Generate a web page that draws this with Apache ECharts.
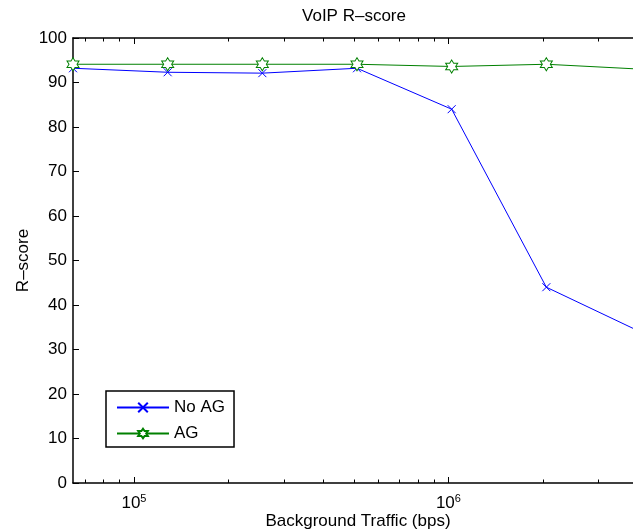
<!DOCTYPE html>
<html>
<head>
<meta charset="utf-8">
<script src="https://cdn.jsdelivr.net/npm/echarts@6/dist/echarts.min.js"></script>
<style>html,body{margin:0;padding:0;background:#fff;overflow:hidden}#c{width:660px;height:532px}</style>
</head>
<body>
<div id="c"></div>
<script>
const xValues = [64000, 128000, 256000, 512000, 1024000, 2048000, 4096000];
const noAG = [93.2, 92.3, 92.1, 93.2, 84.0, 44.0, 33.9];
const ag = [94.1, 94.1, 94.1, 94.1, 93.6, 94.1, 93.0];
const majorTicks = [1e5, 1e6];
const minorTicks = [7e4, 8e4, 9e4, 2e5, 3e5, 4e5, 5e5, 6e5, 7e5, 8e5, 9e5, 2e6, 3e6, 4e6];
const xMin = 64000, xMax = 4096000;

const FONT = '"Liberation Sans", Arial, Helvetica, sans-serif';
const STAR = 'path://M10,0L12.887,5L18.66,5L15.77,10L18.66,15L12.887,15L10,20L7.113,15L1.34,15L4.23,10L1.34,5L7.113,5Z';
const CROSS = 'path://M0,0L10,10M10,0L0,10';

function xAx(pos, ticks, len, showLine, showLabel) {
  return {
    type: 'log', logBase: 10, min: xMin, max: xMax, position: pos, gridIndex: 0,
    axisLine: {show: showLine, onZero: false, lineStyle: {color: '#000', width: 1.5}},
    axisTick: {show: true, inside: true, length: len, customValues: ticks, lineStyle: {color: '#000', width: 1}},
    axisLabel: showLabel ? {
      show: true, customValues: ticks, margin: 10,
      formatter: v => '{b|10}{s|' + Math.round(Math.log10(v)) + '}',
      rich: {b: {fontFamily: FONT, fontSize: 17, color: '#000'}, s: {fontFamily: FONT, fontSize: 11, color: '#000', verticalAlign: 'top', padding: [0, 0, 10, 0]}}
    } : {show: false},
    splitLine: {show: false}, minorTick: {show: false}
  };
}

const chart = echarts.init(document.getElementById('c'), null, {renderer: 'canvas'});
chart.setOption({
  animation: false,
  backgroundColor: '#fff',
  grid: {left: 73, top: 38, width: 568, height: 445, containLabel: false},
  legend: {
    orient: 'vertical', left: 106, top: 391, padding: [8, 9, 5, 10],
    borderColor: '#000', borderWidth: 1.5, backgroundColor: '#fff',
    itemWidth: 52, itemHeight: 12, itemGap: 9,
    textStyle: {fontFamily: FONT, fontSize: 17, color: '#000', padding: [0, 0, 0, 0]},
    data: ['No AG', 'AG']
  },
  xAxis: [
    xAx('bottom', majorTicks, 6, true, true),
    xAx('bottom', minorTicks, 3.5, false, false),
    xAx('top', majorTicks, 6, true, false),
    xAx('top', minorTicks, 3.5, false, false)
  ],
  yAxis: [{
    type: 'value', min: 0, max: 100, interval: 10,
    name: 'R\u2013score', nameLocation: 'middle', nameGap: 41, nameMoveOverlap: false,
    nameTextStyle: {fontFamily: FONT, fontSize: 17, color: '#000'},
    axisLine: {show: true, lineStyle: {color: '#000', width: 1.5}},
    axisTick: {show: true, inside: true, length: 6, lineStyle: {color: '#000'}},
    axisLabel: {fontFamily: FONT, fontSize: 17, color: '#000', margin: 6},
    splitLine: {show: false}
  }],
  series: [
    {
      name: 'No AG', type: 'line', xAxisIndex: 0, data: xValues.map((x, i) => [x, noAG[i]]),
      symbol: CROSS, symbolSize: 8,
      lineStyle: {color: '#0000ff', width: 1},
      itemStyle: {color: '#0000ff', borderColor: '#0000ff', borderWidth: 1},
      emphasis: {disabled: true}
    },
    {
      name: 'AG', type: 'line', xAxisIndex: 0, data: xValues.map((x, i) => [x, ag[i]]),
      symbol: STAR, symbolSize: [12, 13],
      lineStyle: {color: '#008000', width: 1},
      itemStyle: {color: '#ffffff', borderColor: '#008000', borderWidth: 1},
      emphasis: {disabled: true}
    }
  ],
  graphic: [
    {type: 'text', x: 354, y: 8,
      style: {text: 'VoIP R\u2013score', font: '17px ' + FONT, fill: '#000', align: 'center'}},
    {type: 'text', x: 358, y: 513,
      style: {text: 'Background Traffic (bps)', font: '17px ' + FONT, fill: '#000', align: 'center'}}
  ]
});
</script>
</body>
</html>
